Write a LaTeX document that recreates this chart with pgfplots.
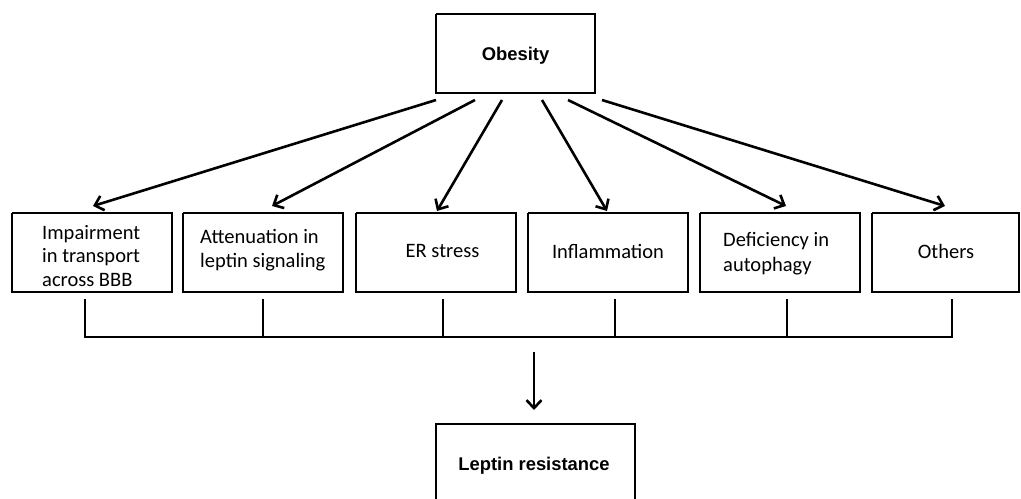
\documentclass[border=0pt]{standalone}
\usepackage{pgfplots}
\pgfplotsset{compat=1.18}
\usepackage{fontspec}
\setmainfont{Carlito}
\newfontfamily\arialf{Liberation Sans}
\usetikzlibrary{arrows.meta}
\begin{document}
\begin{tikzpicture}
\begin{axis}[
  at={(0,0)}, anchor=south west,
  width=1021bp, height=499bp, scale only axis,
  xmin=0, xmax=1021, ymin=0, ymax=499, y dir=reverse,
  axis lines=none, ticks=none, clip=true,
]
% boxes
\pgfplotsset{boxst/.style={black, line width=2.6bp, no marks}}
\addplot[boxst] coordinates {(436,14) (595,14) (595,93) (436,93) (436,14)};
\addplot[boxst] coordinates {(12,213) (172,213) (172,292) (12,292) (12,213)};
\addplot[boxst] coordinates {(183,213) (343,213) (343,292) (183,292) (183,213)};
\addplot[boxst] coordinates {(356,213) (516,213) (516,292) (356,292) (356,213)};
\addplot[boxst] coordinates {(528,213) (688,213) (688,292) (528,292) (528,213)};
\addplot[boxst] coordinates {(700,213) (860,213) (860,292) (700,292) (700,213)};
\addplot[boxst] coordinates {(872,213) (1019,213) (1019,292) (872,292) (872,213)};
\addplot[boxst] coordinates {(436,505) (436,424) (635,424) (635,505)};
% arrows from Obesity
\pgfplotsset{arrst/.style={black, line width=2.6bp, no marks, -{Straight Barb[length=8bp,width=15bp,line width=2.6bp]}}}
\addplot[arrst] coordinates {(436,100) (93,206)};
\addplot[arrst] coordinates {(475,100) (272,206)};
\addplot[arrst] coordinates {(502,100) (437,211)};
\addplot[arrst] coordinates {(542,100) (607,211)};
\addplot[arrst] coordinates {(568,100) (786,206)};
\addplot[arrst] coordinates {(602,100) (945,206)};
% connectors
\pgfplotsset{lnst/.style={black, line width=2.2bp, no marks}}
\addplot[lnst] coordinates {(85,299) (85,337)};
\addplot[lnst] coordinates {(263,299) (263,337)};
\addplot[lnst] coordinates {(443,299) (443,337)};
\addplot[lnst] coordinates {(615,299) (615,337)};
\addplot[lnst] coordinates {(787,299) (787,337)};
\addplot[lnst] coordinates {(952,299) (952,337)};
\addplot[black, line width=2.8bp, no marks] coordinates {(84,337) (953,337)};
\addplot[arrst] coordinates {(534,352) (534,410)};
% texts
\node[font={\arialf\bfseries\fontsize{18.4bp}{22bp}\selectfont}] at (axis cs:515.5,56) {Obesity};
\node[font={\arialf\bfseries\fontsize{18.4bp}{22bp}\selectfont}] at (axis cs:534,466) {Leptin resistance};
\node[font={\fontsize{20.5bp}{23.5bp}\selectfont}, align=left, anchor=west, inner sep=0pt] at (axis cs:42,256) {Impairment\\in transport\\across BBB};
\node[font={\fontsize{20.5bp}{24bp}\selectfont}, align=left, anchor=west, inner sep=0pt] at (axis cs:200,250) {Attenuation in\\leptin signaling};
\node[font={\fontsize{20.5bp}{24bp}\selectfont}, inner sep=0pt] at (axis cs:442.5,251) {ER stress};
\node[font={\fontsize{20.5bp}{24bp}\selectfont}, inner sep=0pt] at (axis cs:608,251) {Inflammation};
\node[font={\fontsize{20.5bp}{25bp}\selectfont}, align=left, anchor=west, inner sep=0pt] at (axis cs:723,254) {Deficiency in\\autophagy};
\node[font={\fontsize{20.5bp}{24bp}\selectfont}, inner sep=0pt] at (axis cs:946,251) {Others};
\end{axis}
\pgfresetboundingbox
\useasboundingbox (0,0) rectangle (1021bp,499bp);
\end{tikzpicture}
\end{document}
